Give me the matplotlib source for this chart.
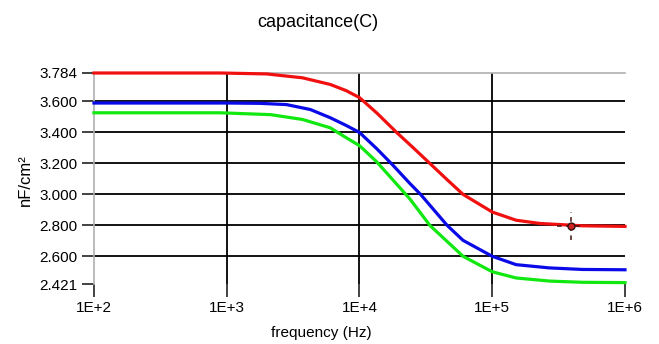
import numpy as np
import matplotlib.pyplot as plt
from matplotlib.ticker import FixedLocator, NullLocator

plt.rcParams['font.family'] = ['Liberation Sans', 'DejaVu Sans']

# ------------------------------------------------------------------------------
# data (log10 of frequency, capacitance in nF/cm^2)
red_logf = [2.0, 2.95, 3.30, 3.57, 3.78, 3.90, 4.0, 4.13, 4.28, 4.40, 4.53, 4.66, 4.78,
            5.0, 5.18, 5.36, 5.68, 6.0]
red_c = [3.784, 3.784, 3.778, 3.753, 3.71, 3.67, 3.625, 3.526, 3.40, 3.305, 3.20, 3.095, 3.00,
         2.886, 2.833, 2.812, 2.797, 2.793]

blue_logf = [2.0, 3.0, 3.25, 3.45, 3.63, 3.78, 3.90, 4.0, 4.13, 4.25, 4.38, 4.46, 4.66, 4.78,
             5.0, 5.18, 5.43, 5.68, 6.0]
blue_c = [3.59, 3.59, 3.588, 3.58, 3.548, 3.495, 3.445, 3.40, 3.295, 3.19, 3.07, 3.0, 2.80, 2.703,
          2.60, 2.546, 2.525, 2.515, 2.513]

green_logf = [2.0, 2.95, 3.33, 3.57, 3.78, 3.90, 4.0, 4.13, 4.25, 4.38, 4.53, 4.78,
              5.0, 5.18, 5.43, 5.68, 6.0]
green_c = [3.527, 3.527, 3.515, 3.484, 3.43, 3.366, 3.315, 3.21, 3.095, 2.97, 2.80, 2.60,
           2.50, 2.46, 2.44, 2.432, 2.43]

cursor_logf = 5.59
cursor_c = 2.797

ytick_vals = [2.421, 2.6, 2.8, 3.0, 3.2, 3.4, 3.6, 3.784]
ytick_labels = ['2.421', '2.600', '2.800', '3.000', '3.200', '3.400', '3.600', '3.784']
xtick_vals = [1e2, 1e3, 1e4, 1e5, 1e6]
xtick_labels = ['1E+2', '1E+3', '1E+4', '1E+5', '1E+6']

# ------------------------------------------------------------------------------
fig = plt.figure(figsize=(6.59, 3.44), dpi=100)
ax = fig.add_axes([0.1426, 0.1744, 0.8058, 0.6134])

ax.set_xscale('log')
ax.set_xlim(1e2, 1e6)
ax.set_ylim(2.421, 3.784)

ax.xaxis.set_major_locator(FixedLocator(xtick_vals))
ax.xaxis.set_minor_locator(NullLocator())
ax.set_xticklabels(xtick_labels)
ax.set_yticks(ytick_vals)
ax.set_yticklabels(ytick_labels)
ax.tick_params(axis='both', direction='out', length=9, width=1.2, color='#222222',
               labelsize=11, pad=3)

# grid lines: black inside, none at the plot edges
ax.grid(True, color='black', linewidth=1.3)
gx = ax.xaxis.get_gridlines()
gx[0].set_visible(False)
gx[-1].set_visible(False)
gy = ax.yaxis.get_gridlines()
gy[0].set_visible(False)
gy[-1].set_visible(False)
ax.set_axisbelow(True)

for s in ['bottom', 'right']:
    ax.spines[s].set_visible(False)
ax.spines['left'].set_color('#b0b0b0')
ax.spines['top'].set_color('#b0b0b0')
ax.spines['left'].set_linewidth(1.2)
ax.spines['top'].set_linewidth(1.2)

ax.plot(10 ** np.array(red_logf), red_c, color='#f01010', lw=2.3, clip_on=False, zorder=3)
ax.plot(10 ** np.array(blue_logf), blue_c, color='#0a0ae8', lw=2.3, clip_on=False, zorder=3)
ax.plot(10 ** np.array(green_logf), green_c, color='#10e810', lw=2.3, clip_on=False, zorder=3)

# cursor crosshair
cf = 10 ** cursor_logf
ax.plot([cf, cf], [cursor_c - 0.09, cursor_c + 0.09], color='#441111', lw=1.1,
        dashes=(3, 3), zorder=4)
ax.plot([10 ** (cursor_logf - 0.1), 10 ** (cursor_logf + 0.09)], [cursor_c, cursor_c],
        color='#441111', lw=1.1, dashes=(3, 3), zorder=4)
ax.plot([cf], [cursor_c], 'o', ms=5, mfc='#d02020', mec='#331111', mew=1.0, zorder=5)

fig.text(0.483, 0.935, 'capacitance(C)', ha='center', va='center', fontsize=13)
fig.text(0.487, 0.031, 'frequency (Hz)', ha='center', va='center', fontsize=11)
fig.text(0.038, 0.477, 'nF/cm²', ha='center', va='center', rotation=90, fontsize=12)

fig.savefig('out.png', dpi=100)
